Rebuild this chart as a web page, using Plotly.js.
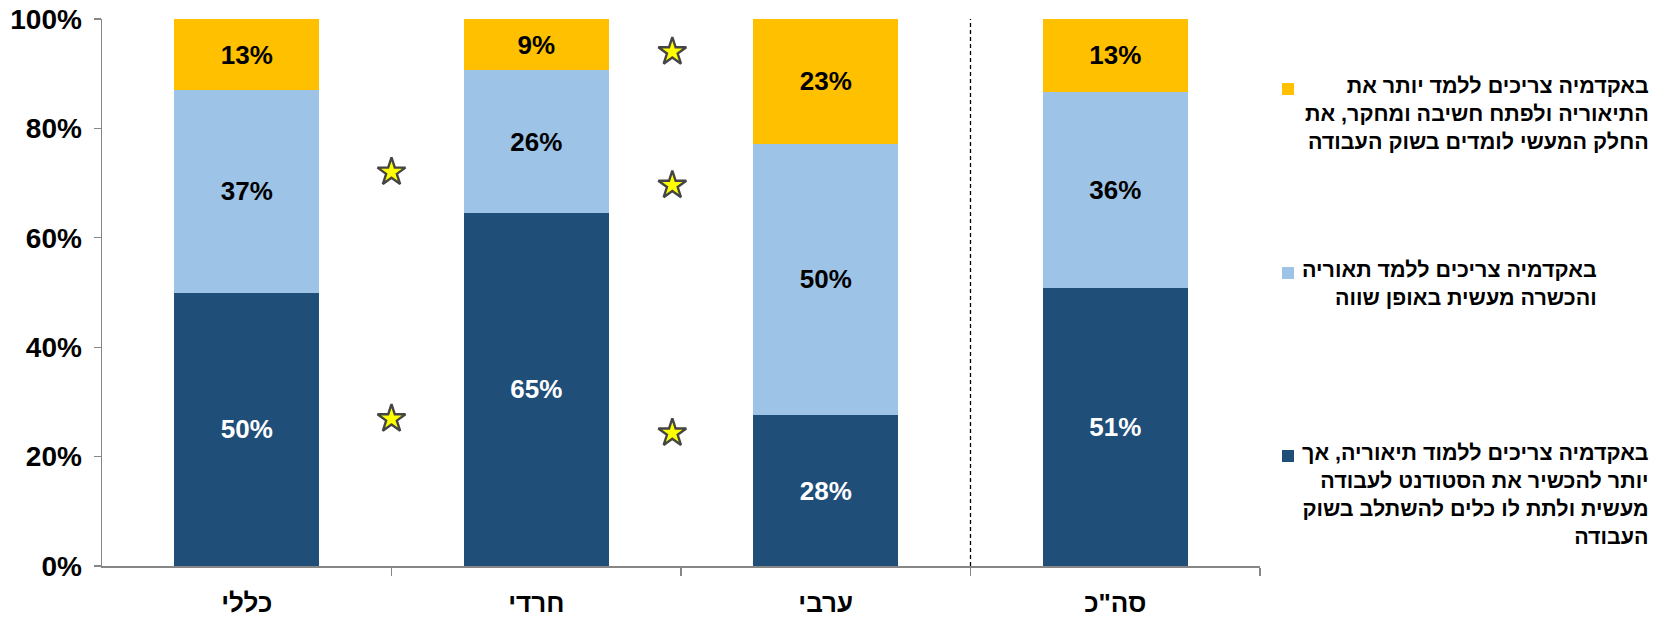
<!DOCTYPE html>
<html>
<head>
<meta charset="utf-8">
<script src="https://cdn.plot.ly/plotly-3.0.1.min.js"></script>
<style>html,body{margin:0;padding:0;background:#fff;}#chart{width:1667px;height:620px;}</style>
</head>
<body>
<div id="chart"></div>
<script>
// ---- data ----
var categories = ["כללי", "חרדי", "ערבי", "סה\"כ"];
var catPos = [0, 1, 2, 3];
var practicalMore = [50, 64.6, 27.6, 50.9];   // dark blue
var equalBoth = [37, 26.0, 49.6, 35.8];       // light blue
var theoryMore = [13, 9.4, 22.8, 13.3];       // yellow
var yTicks = [0, 20, 40, 60, 80, 100];
var yTickText = ["0%", "20%", "40%", "60%", "80%", "100%"];
var starX = [0.5, 0.5, 1.47, 1.47, 1.47];
var starY = [72, 26.9, 94, 69.6, 24.3];
var legendPractical = ["באקדמיה צריכים ללמוד תיאוריה, אך", "יותר להכשיר את הסטודנט לעבודה", "מעשית ולתת לו כלים להשתלב בשוק", "העבודה"];
var legendEqual = ["באקדמיה צריכים ללמד תאוריה", "והכשרה מעשית באופן שווה"];
var legendTheory = ["באקדמיה צריכים ללמד יותר את", "התיאוריה ולפתח חשיבה ומחקר, את", "החלק המעשי לומדים בשוק העבודה"];

// ---- styling ----
var FONT = "Liberation Sans, Arial, Helvetica, sans-serif";
var cDark = "#1F4E79", cLight = "#9DC3E6", cYellow = "#FFC000";
var W = 1667, H = 620, L = 102, R = 407, T = 19, B = 54;
var pw = W - L - R, ph = H - T - B;
function px2x(p) { return (p - L) / pw; }
function px2y(p) { return (H - B - p) / ph; }

function barTrace(vals, color, txtColor, name) {
  return {
    type: "bar", x: catPos, y: vals, name: name,
    marker: {color: color, line: {width: 0}},
    width: 0.5,
    texttemplate: "%{y:.0f}%",
    textposition: "inside", insidetextanchor: "middle",
    textangle: 0, constraintext: "none",
    textfont: {family: FONT, size: 26, color: txtColor, weight: "bold"},
    hoverinfo: "skip", showlegend: false
  };
}

var data = [
  barTrace(practicalMore, cDark, "#FFFFFF", legendPractical.join(" ")),
  barTrace(equalBoth, cLight, "#000000", legendEqual.join(" ")),
  barTrace(theoryMore, cYellow, "#000000", legendTheory.join(" ")),
  {
    type: "scatter", mode: "markers", x: starX, y: starY,
    marker: {symbol: "star", size: 21, color: "#FFFF00", line: {color: "#454545", width: 2.4}},
    hoverinfo: "skip", showlegend: false, cliponaxis: false
  }
];

var legendItems = [
  {lines: legendTheory, color: cYellow, cy: 89, right: 1650},
  {lines: legendEqual, color: cLight, cy: 273, right: 1598},
  {lines: legendPractical, color: cDark, cy: 456, right: 1650}
];
var annotations = [], shapes = [];
legendItems.forEach(function (it) {
  annotations.push({
    xref: "paper", yref: "paper", x: px2x(it.right), y: px2y(it.cy - 16),
    xanchor: "right", yanchor: "top", align: "right", showarrow: false,
    borderpad: 0,
    text: it.lines.join("<br>"),
    font: {family: FONT, size: 21.5, color: "#000", weight: "bold"}
  });
  shapes.push({
    type: "rect", xref: "paper", yref: "paper",
    x0: px2x(1282), x1: px2x(1294), y0: px2y(it.cy + 6), y1: px2y(it.cy - 6),
    fillcolor: it.color, line: {width: 0}
  });
});
shapes.push({
  type: "line", xref: "x", yref: "paper", x0: 2.5, x1: 2.5, y0: 0, y1: 1,
  line: {color: "#000", width: 1.3, dash: "4px,3px"}
});

var layout = {
  width: W, height: H,
  margin: {l: L, r: R, t: T, b: B, pad: 0},
  paper_bgcolor: "#fff", plot_bgcolor: "#fff",
  barmode: "stack",
  font: {family: FONT, color: "#000"},
  xaxis: {
    range: [-0.5, 3.5], tickmode: "array", tickvals: catPos, ticktext: categories,
    ticks: "", showgrid: false, zeroline: false,
    showline: true, linecolor: "#868686", linewidth: 1.5,
    tickfont: {family: FONT, size: 26, color: "#000", weight: "bold"},
    ticklabelstandoff: 13,
    minor: {tickmode: "array", tickvals: [0.5, 1.5, 2.5, 3.5], ticks: "outside", ticklen: 8, tickcolor: "#868686", tickwidth: 1.3, showgrid: false},
    fixedrange: true
  },
  yaxis: {
    range: [0, 100], tickmode: "array", tickvals: yTicks, ticktext: yTickText,
    ticks: "outside", ticklen: 7, tickcolor: "#868686", tickwidth: 1.3,
    showgrid: false, zeroline: false,
    showline: true, linecolor: "#868686", linewidth: 1.5,
    tickfont: {family: FONT, size: 28, color: "#000", weight: "bold"},
    ticklabelstandoff: 6,
    fixedrange: true
  },
  annotations: annotations,
  shapes: shapes,
  showlegend: false
};

Plotly.newPlot("chart", data, layout, {displayModeBar: false, staticPlot: true});
</script>
</body>
</html>
